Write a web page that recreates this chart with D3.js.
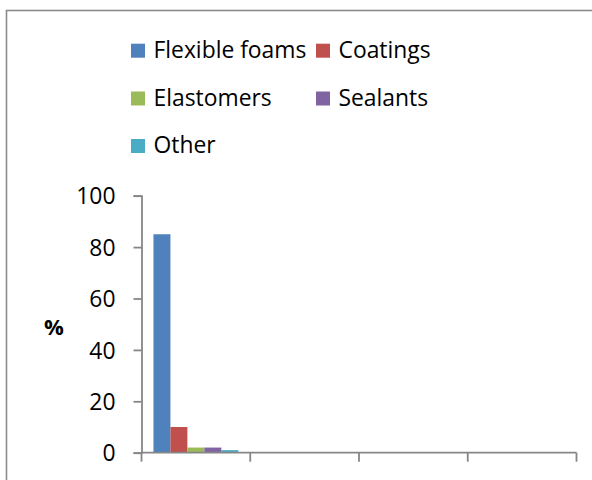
<!DOCTYPE html>
<html><head><meta charset="utf-8">
<script src="https://cdn.jsdelivr.net/npm/d3@7/dist/d3.min.js"></script>
<style>body{margin:0;background:#fff}svg{display:block}text{font-family:"Open Sans",sans-serif;fill:#000}</style>
</head><body><svg id="c" width="592" height="480"></svg>
<script>
const categories = ["1", "2", "3", "4"];
const seriesNames = ["Flexible foams", "Coatings", "Elastomers", "Sealants", "Other"];
const seriesColors = ["#4F81BD", "#C0504D", "#9BBB59", "#8064A2", "#4BACC6"];
const flexibleFoams = [85, null, null, null];
const coatings = [10, null, null, null];
const elastomers = [2, null, null, null];
const sealants = [2, null, null, null];
const other = [1, null, null, null];
const yTicks = [0, 20, 40, 60, 80, 100];
const yLabel = "%";

const seriesValues = [flexibleFoams, coatings, elastomers, sealants, other];
const svg = d3.select("#c");
const axisColor = "#868686";

// fit font size so "Flexible foams" spans ~153px like the reference
const probe = svg.append("text").attr("font-size", 20).text(seriesNames[0]);
const fs = Math.min(24, 20 * 153 / probe.node().getComputedTextLength());
probe.remove();

// chart border
svg.append("rect").attr("x", 6.5).attr("y", 10.5).attr("width", 600).attr("height", 500)
  .attr("fill", "none").attr("stroke", "#8c8c8c").attr("stroke-width", 1.6);

const x0 = d3.scaleBand().domain(categories).range([141.5, 576.5]).paddingInner(0.22).paddingOuter(0.11);
const x1 = d3.scaleBand().domain(seriesNames).range([0, x0.bandwidth()]);
const y = d3.scaleLinear().domain([0, 100]).range([452.7, 195.7]);

// bars
const g = svg.append("g");
seriesNames.forEach((s, si) => {
  g.selectAll(null).data(categories.map((c, ci) => ({c, v: seriesValues[si][ci]})).filter(d => d.v != null))
    .enter().append("rect")
    .attr("x", d => x0(d.c) + x1(s))
    .attr("y", d => y(d.v))
    .attr("width", x1.bandwidth())
    .attr("height", d => y(0) - y(d.v))
    .attr("fill", seriesColors[si]);
});

// y axis
const yAxis = svg.append("g").attr("transform", "translate(141.5,0)")
  .call(d3.axisLeft(y).tickValues(yTicks).tickSize(8).tickPadding(18).tickFormat(d3.format("d")));
yAxis.select(".domain").attr("stroke", axisColor).attr("stroke-width", 1.8);
yAxis.selectAll(".tick line").attr("stroke", axisColor).attr("stroke-width", 1.8);
yAxis.selectAll(".tick text").attr("font-size", fs).attr("font-family", "'Open Sans', sans-serif").attr("fill", "#000").attr("dy", "0.36em");

// x axis
const xEdge = d3.scaleLinear().domain([0, categories.length]).range([141.5, 576.5]);
const xg = svg.append("g");
xg.append("line").attr("x1", 141.5).attr("x2", 576.5).attr("y1", y(0)).attr("y2", y(0))
  .attr("stroke", axisColor).attr("stroke-width", 1.8);
xg.selectAll(null).data(d3.range(categories.length + 1)).enter().append("line")
  .attr("x1", d => xEdge(d)).attr("x2", d => xEdge(d))
  .attr("y1", y(0)).attr("y2", y(0) + 9)
  .attr("stroke", axisColor).attr("stroke-width", 1.8);

// y label
svg.append("text").attr("x", 54).attr("y", 326).attr("text-anchor", "middle")
  .attr("dominant-baseline", "central").attr("font-weight", "bold").attr("font-size", 22).text(yLabel);

// legend
const legCols = [131, 316];
const legRows = [57.7, 105.5, 153];
const leg = svg.append("g");
seriesNames.forEach((s, i) => {
  const cx = legCols[i % 2], by = legRows[Math.floor(i / 2)];
  leg.append("rect").attr("x", cx).attr("y", by - 14).attr("width", 14).attr("height", 14).attr("fill", seriesColors[i]);
  leg.append("text").attr("x", cx + 22.5).attr("y", by).attr("font-size", fs).text(s);
});
</script></body></html>
